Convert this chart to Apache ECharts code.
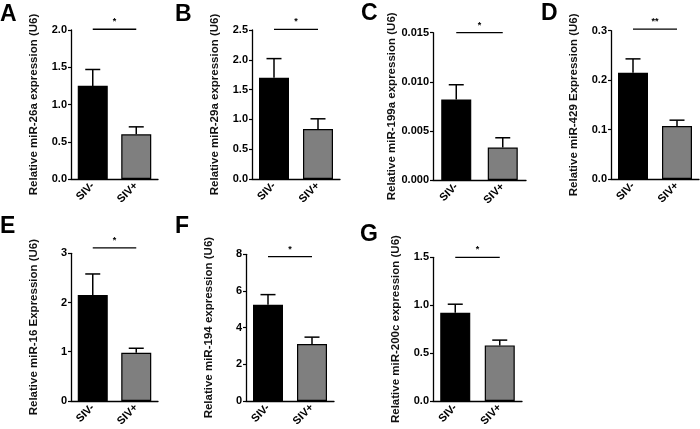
<!DOCTYPE html>
<html><head><meta charset="utf-8">
<script src="https://cdn.jsdelivr.net/npm/echarts@6/dist/echarts.min.js"></script>
<style>html,body{margin:0;padding:0;background:#fff}#c{width:700px;height:429px}</style>
</head><body><div id="c"></div>
<script>
// ---- data ----
const categories = ['SIV-', 'SIV+'];
const panelLetters = ['A', 'B', 'C', 'D', 'E', 'F', 'G'];
const yTitles = [
  'Relative miR-26a expression (U6)',
  'Relative miR-29a expression (U6)',
  'Relative miR-199a expression (U6)',
  'Relative miR-429 Expression (U6)',
  'Relative miR-16 Expression (U6)',
  'Relative miR-194 expression (U6)',
  'Relative miR-200c expression (U6)'
];
const meanSIVneg = [1.25, 1.70, 0.0082, 0.215, 2.15, 5.25, 0.92];
const meanSIVpos = [0.60, 0.84, 0.0033, 0.107, 0.98, 3.10, 0.58];
const errTopSIVneg = [1.47, 2.02, 0.0097, 0.243, 2.58, 5.80, 1.01];
const errTopSIVpos = [0.70, 1.01, 0.0043, 0.119, 1.07, 3.48, 0.635];
const yMax = [2.0, 2.5, 0.015, 0.3, 3, 8, 1.5];
const yInterval = [0.5, 0.5, 0.005, 0.1, 1, 2, 0.5];
const yDecimals = [1, 1, 3, 1, 0, 0, 1];
const sigLevel = [2.01, 2.51, 0.015, 0.303, 3.11, 7.87, 1.5];
const sigLabel = ['*', '*', '*', '**', '*', '*', '*'];

// ---- layout ----
const gridBoxes = [
  {left: 71, top: 30, width: 87, height: 149},
  {left: 252, top: 30, width: 88, height: 149},
  {left: 433, top: 32.7, width: 93, height: 147.3},
  {left: 611, top: 30.7, width: 88, height: 148.3},
  {left: 71, top: 253.3, width: 87, height: 150.7},
  {left: 246, top: 254.3, width: 88, height: 149.7},
  {left: 433, top: 257.3, width: 89, height: 146.7}
];
const letterPos = [[0, 14], [175, 14], [361, 13], [541, 13], [0, 226], [175, 226], [360, 234]];

const FONT = 'Liberation Sans, Arial, sans-serif';
const chart = echarts.init(document.getElementById('c'), null, {renderer: 'canvas'});

const grid = [], xAxis = [], yAxis = [], series = [], graphic = [];
for (let i = 0; i < 7; i++) {
  grid.push(Object.assign({containLabel: false}, gridBoxes[i]));
  xAxis.push({
    type: 'category', gridIndex: i, data: categories,
    axisLine: {lineStyle: {color: '#000', width: 1.3}},
    axisTick: {show: false},
    axisLabel: {rotate: 45, color: '#000', fontWeight: 'bold', fontSize: 11, fontFamily: FONT, margin: 5}
  });
  const dec = yDecimals[i];
  yAxis.push({
    type: 'value', gridIndex: i, min: 0, max: yMax[i], interval: yInterval[i],
    name: yTitles[i], nameLocation: 'middle', nameGap: 31,
    nameTextStyle: {color: '#111', fontSize: 11.5, fontWeight: 'bold', fontFamily: FONT},
    axisLine: {show: true, lineStyle: {color: '#000', width: 1.3}},
    axisTick: {show: true, length: 3, lineStyle: {color: '#000', width: 1.2}},
    splitLine: {show: false},
    axisLabel: {color: '#000', fontWeight: 'bold', fontSize: 11, fontFamily: FONT, margin: 4,
      formatter: v => v.toFixed(dec)}
  });
  series.push({
    type: 'bar', xAxisIndex: i, yAxisIndex: i, barWidth: 30,
    data: [
      {value: meanSIVneg[i], itemStyle: {color: '#000'}},
      {value: meanSIVpos[i], itemStyle: {color: '#7f7f7f'}}
    ],
    itemStyle: {borderColor: '#000', borderWidth: 1.2}
  });
  series.push({
    type: 'custom', xAxisIndex: i, yAxisIndex: i, z: 5,
    data: [[0, errTopSIVneg[i], meanSIVneg[i]], [1, errTopSIVpos[i], meanSIVpos[i]]],
    renderItem: function (params, api) {
      const x = api.value(0);
      const p0 = api.coord([x, api.value(2)]);
      const p1 = api.coord([x, api.value(1)]);
      const half = 7.5;
      return {type: 'group', children: [
        {type: 'line', shape: {x1: p0[0], y1: p0[1], x2: p1[0], y2: p1[1]}, style: {stroke: '#000', lineWidth: 1.5}},
        {type: 'line', shape: {x1: p1[0] - half, y1: p1[1], x2: p1[0] + half, y2: p1[1]}, style: {stroke: '#000', lineWidth: 1.5}}
      ]};
    }
  });
  const lab = sigLabel[i];
  series.push({
    type: 'custom', xAxisIndex: i, yAxisIndex: i, z: 5,
    data: [[0, sigLevel[i], 1]],
    renderItem: function (params, api) {
      const lev = api.value(1);
      const a = api.coord([0, lev]);
      const b = api.coord([1, lev]);
      return {type: 'group', children: [
        {type: 'line', shape: {x1: a[0], y1: a[1], x2: b[0], y2: b[1]}, style: {stroke: '#000', lineWidth: 1.3}},
        {type: 'text', x: (a[0] + b[0]) / 2, y: a[1] - 3,
          style: {text: lab, fill: '#000', font: 'bold 9px ' + FONT, textAlign: 'center', textVerticalAlign: 'bottom'}}
      ]};
    }
  });
  graphic.push({
    type: 'text', left: letterPos[i][0], top: letterPos[i][1] - 11,
    style: {text: panelLetters[i], fill: '#000', font: 'bold 23px ' + FONT}
  });
}

chart.setOption({animation: false, grid, xAxis, yAxis, series, graphic});
</script>
</body></html>
